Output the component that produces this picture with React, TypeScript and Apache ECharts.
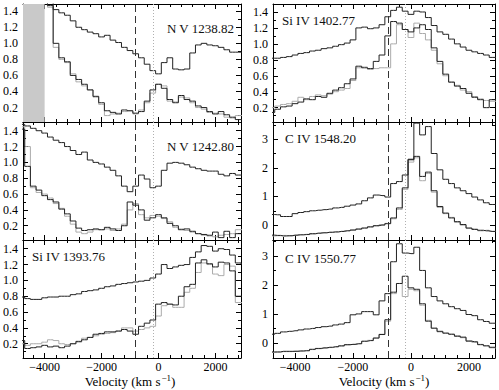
import { useEffect, useRef } from 'react';
import * as echarts from 'echarts';

const VEL = [-4800, -4600, -4400, -4200, -4000, -3800, -3600, -3400, -3200, -3000,
  -2800, -2600, -2400, -2200, -2000, -1800, -1600, -1400, -1200, -1000,
  -800, -600, -400, -200, 0, 200, 400, 600, 800, 1000,
  1200, 1400, 1600, 1800, 2000, 2200, 2400, 2600, 2800, 3000];

const NV1238_TOP = [null, null, null, null, 1.6, 1.47, 1.42, 1.38, 1.35, 1.28, 1.2, 1.17, 1.14, 1.12, 1.08, 1.1, 1.04, 1.01, 0.95, 0.91, 0.87, 0.82, 0.74, 0.66, 0.62, 0.76, 0.82, 0.68, 0.67, 0.68, 0.88, 0.98, 1.0, 0.98, 0.97, 0.95, 0.92, 0.89, 0.89, 0.89];
const NV1238_LOW = [null, null, null, null, 1.6, 1.6, 1.0, 0.82, 0.77, 0.6, 0.55, 0.49, 0.42, 0.34, 0.26, 0.16, 0.14, 0.12, 0.17, 0.16, 0.13, 0.15, 0.28, 0.42, 0.49, 0.44, 0.3, 0.26, 0.35, 0.3, 0.28, 0.22, 0.2, 0.15, 0.12, 0.15, 0.11, 0.08, 0.05, 0.05];
const NV1238_GRAY = [null, null, null, null, 1.6, 1.45, 0.95, 0.8, 0.76, 0.62, 0.52, 0.47, 0.42, 0.33, 0.24, 0.1, 0.12, 0.13, 0.15, 0.16, 0.12, 0.17, 0.26, 0.38, 0.49, 0.47, 0.28, 0.27, 0.33, 0.32, 0.26, 0.2, 0.18, 0.14, 0.13, 0.12, 0.08, 0.07, 0.1, 0.1];

const NV1242_TOP = [1.48, 1.46, 1.43, 1.4, 1.37, 1.32, 1.28, 1.25, 1.2, 1.15, 1.1, 1.13, 1.03, 1.0, 0.98, 0.94, 0.9, 0.83, 0.7, 0.63, 0.7, 0.84, 0.79, 0.68, 0.7, 0.9, 0.99, 1.0, 0.99, 0.97, 0.94, 0.92, 0.9, 0.89, 0.89, 0.85, 0.83, 0.86, 0.84, 0.84];
const NV1242_LOW = [1.42, 0.95, 0.7, 0.65, 0.58, 0.53, 0.5, 0.41, 0.35, 0.26, 0.17, 0.14, 0.15, 0.16, 0.15, 0.18, 0.16, 0.14, 0.2, 0.5, 0.46, 0.4, 0.27, 0.3, 0.34, 0.3, 0.23, 0.2, 0.15, 0.16, 0.13, 0.1, 0.09, 0.08, 0.12, 0.05, 0.13, 0.05, 0.1, 0.1];
const NV1242_GRAY = [1.45, 1.2, 0.68, 0.62, 0.6, 0.55, 0.48, 0.42, 0.32, 0.22, 0.12, 0.1, 0.12, 0.15, 0.15, 0.16, 0.14, 0.16, 0.22, 0.4, 0.48, 0.34, 0.3, 0.33, 0.32, 0.29, 0.25, 0.18, 0.16, 0.14, 0.12, 0.1, 0.08, 0.07, 0.06, 0.08, 0.09, 0.1, 0.15, 0.15];

const SI1393_TOP = [0.79, 0.77, 0.76, 0.76, 0.78, 0.79, 0.79, 0.8, 0.8, 0.82, 0.83, 0.86, 0.87, 0.88, 0.9, 0.92, 0.93, 0.95, 0.96, 0.97, 0.98, 0.99, 1.0, 1.03, 1.08, 1.2, 1.15, 1.17, 1.19, 1.2, 1.29, 1.36, 1.44, 1.43, 1.37, 1.4, 1.39, 1.32, 1.22, 1.21];
const SI1393_LOW = [0.24, 0.14, 0.15, 0.16, 0.18, 0.16, 0.17, 0.15, 0.17, 0.2, 0.23, 0.25, 0.28, 0.32, 0.33, 0.35, 0.35, 0.36, 0.38, 0.36, 0.32, 0.42, 0.46, 0.5, 0.7, 0.72, 0.7, 0.69, 0.8, 0.92, 0.95, 1.22, 1.26, 1.21, 1.17, 1.23, 1.22, 1.12, 0.8, 0.8];
const SI1393_GRAY = [0.2, 0.18, 0.2, 0.2, 0.22, 0.25, 0.24, 0.2, 0.19, 0.2, 0.22, 0.27, 0.28, 0.3, 0.32, 0.33, 0.34, 0.36, 0.4, 0.4, 0.36, 0.38, 0.4, 0.42, 0.55, 0.68, 0.7, 0.66, 0.66, 0.85, 0.9, 1.1, 1.22, 1.2, 1.08, 1.06, 1.2, 1.18, 0.72, 0.72];

const SI1402_TOP = [0.82, 0.82, 0.83, 0.84, 0.86, 0.88, 0.89, 0.91, 0.92, 0.94, 0.95, 0.97, 0.99, 1.01, 1.05, 1.2, 1.21, 1.19, 1.2, 1.24, 1.34, 1.42, 1.46, 1.41, 1.37, 1.41, 1.4, 1.33, 1.23, 1.15, 1.12, 1.06, 1.0, 0.96, 0.92, 0.9, 0.88, 0.86, 0.83, 0.83];
const SI1402_LOW = [0.14, 0.18, 0.21, 0.22, 0.25, 0.27, 0.31, 0.3, 0.34, 0.33, 0.38, 0.42, 0.45, 0.5, 0.56, 0.72, 0.7, 0.69, 0.78, 0.86, 1.1, 1.28, 1.26, 1.18, 1.15, 1.2, 1.24, 1.18, 0.95, 0.78, 0.62, 0.52, 0.47, 0.44, 0.38, 0.33, 0.3, 0.2, 0.3, 0.3];
const SI1402_GRAY = [0.2, 0.22, 0.24, 0.25, 0.28, 0.33, 0.3, 0.34, 0.36, 0.35, 0.37, 0.4, 0.42, 0.44, 0.54, 0.7, 0.71, 0.68, 0.69, 0.7, 0.7, 1.0, 1.24, 1.18, 1.08, 1.26, 1.13, 1.05, 0.92, 0.75, 0.6, 0.52, 0.48, 0.42, 0.4, 0.34, 0.31, 0.29, 0.28, 0.28];

const CIV1548_TOP = [0.37, 0.36, 0.3, 0.3, 0.4, 0.44, 0.47, 0.5, 0.52, 0.54, 0.56, 0.6, 0.62, 0.66, 0.7, 0.74, 0.85, 0.95, 1.05, 1.03, 0.98, 1.45, 1.52, 1.75, 2.28, 3.56, 3.15, 3.44, 2.5, 1.93, 1.6, 1.45, 1.3, 1.2, 1.1, 0.98, 0.88, 0.78, 0.72, 0.7];
const CIV1548_LOW = [-0.35, -0.36, -0.38, -0.37, -0.35, -0.34, -0.33, -0.3, -0.28, -0.27, -0.25, -0.24, -0.22, -0.2, -0.17, -0.14, -0.1, -0.06, -0.02, 0.0, 0.05, 0.25, 0.6, 1.3, 2.3, 2.4, 1.7, 1.85, 1.2, 0.65, 0.42, 0.25, 0.12, 0.02, -0.1, -0.15, -0.18, -0.2, -0.22, -0.22];
const CIV1548_GRAY = [-0.38, -0.37, -0.36, -0.38, -0.36, -0.33, -0.32, -0.31, -0.29, -0.26, -0.25, -0.23, -0.22, -0.19, -0.18, -0.13, -0.11, -0.07, -0.03, 0.02, 0.06, 0.22, 0.55, 1.25, 2.2, 2.35, 1.55, 1.8, 1.15, 0.62, 0.4, 0.27, 0.1, 0.0, -0.12, -0.14, -0.2, -0.18, -0.22, -0.22];

const CIV1550_TOP = [0.3, 0.33, 0.38, 0.4, 0.42, 0.45, 0.48, 0.5, 0.53, 0.56, 0.58, 0.62, 0.65, 0.7, 0.97, 1.0, 1.08, 1.08, 0.97, 1.45, 1.7, 2.8, 3.42, 3.1, 3.08, 3.3, 2.5, 1.9, 1.6, 1.45, 1.35, 1.25, 1.18, 1.12, 0.98, 0.94, 0.8, 0.74, 0.68, 0.68];
const CIV1550_LOW = [-0.31, -0.31, -0.29, -0.29, -0.29, -0.28, -0.27, -0.22, -0.19, -0.17, -0.15, -0.13, -0.1, -0.06, -0.05, -0.03, 0.06, 0.08, 0.17, 0.29, 0.8, 1.75, 2.05, 2.3, 1.9, 1.85, 1.35, 0.75, 0.51, 0.4, 0.34, 0.3, 0.23, 0.2, 0.06, 0.04, -0.06, -0.1, -0.15, -0.15];
const CIV1550_GRAY = [-0.33, -0.32, -0.3, -0.3, -0.28, -0.27, -0.26, -0.23, -0.2, -0.18, -0.16, -0.14, -0.11, -0.07, -0.05, -0.02, 0.05, 0.09, 0.16, 0.3, 0.75, 1.7, 2.05, 1.6, 1.85, 1.8, 1.3, 0.78, 0.5, 0.38, 0.33, 0.3, 0.25, 0.18, 0.08, 0.02, -0.05, -0.1, -0.17, -0.17];

const PANEL_NAMES = ['N V 1238.82', 'N V 1242.80', 'Si IV 1393.76', 'Si IV 1402.77', 'C IV 1548.20', 'C IV 1550.77'];
const TOP_SERIES = [NV1238_TOP, NV1242_TOP, SI1393_TOP, SI1402_TOP, CIV1548_TOP, CIV1550_TOP];
const LOW_SERIES = [NV1238_LOW, NV1242_LOW, SI1393_LOW, SI1402_LOW, CIV1548_LOW, CIV1550_LOW];
const GRAY_SERIES = [NV1238_GRAY, NV1242_GRAY, SI1393_GRAY, SI1402_GRAY, CIV1548_GRAY, CIV1550_GRAY];

const Y_MIN = [0.02, 0.02, 0.02, 0.02, -0.52, -0.52];
const Y_MAX = [1.49, 1.51, 1.51, 1.5, 3.6, 3.55];

const X_MIN = -4760;
const X_MAX = 2900;
const X_MAJOR = [-4000, -2000, 0, 2000];
const X_MINOR = [-4400, -3600, -3200, -2800, -2400, -1600, -1200, -800, -400, 400, 800, 1200, 1600, 2400, 2800];
const Y_MAJOR_NV = [0.2, 0.4, 0.6, 0.8, 1.0, 1.2, 1.4];
const Y_MINOR_NV = [0.1, 0.3, 0.5, 0.7, 0.9, 1.1, 1.3];
const Y_MAJOR_C = [0, 1, 2, 3];
const Y_MINOR_C = [0.5, 1.5, 2.5, 3.5];

const ABSORB_VEL = -800;
const SYS_VEL = -200;
const MASK_END = -4000;

const FONT = 'Liberation Serif, DejaVu Serif, serif';
const INK = '#222';

export default function App() {
  const ref = useRef<HTMLDivElement>(null);
  useEffect(() => {
    const chart = echarts.init(ref.current!, null, { renderer: 'svg' });
    const grids: any[] = [];
    const xAxes: any[] = [];
    const yAxes: any[] = [];
    const series: any[] = [];
    const graphics: any[] = [];
    const line = { color: '#000', width: 1 };
    const minus = (v: number) => (v < 0 ? '\u2212' + Math.abs(v) : String(v));

    for (let i = 0; i < 6; i++) {
      const col = i < 3 ? 0 : 1;
      const row = i % 3;
      const isC = i >= 4;
      grids.push({ left: col ? 273 : 19, width: 222, top: 4 + row * 118, height: 118 });
      const xBase = { type: 'value', gridIndex: i, min: X_MIN, max: X_MAX, splitLine: { show: false } };
      const mk = (pos: string, vals: number[], len: number, showLine: boolean, showLabel: boolean) => ({
        ...xBase,
        position: pos,
        axisLine: { show: showLine, onZero: false, lineStyle: line },
        axisTick: { show: true, inside: true, length: len, customValues: vals, lineStyle: line },
        axisLabel: {
          show: showLabel, customValues: X_MAJOR, formatter: minus,
          fontFamily: FONT, fontSize: 12, color: '#000', margin: 3,
        },
      });
      xAxes.push(mk('bottom', X_MAJOR, 5, true, row === 2));
      xAxes.push(mk('bottom', X_MINOR, 3, false, false));
      xAxes.push(mk('top', X_MAJOR, 5, true, false));
      xAxes.push(mk('top', X_MINOR, 3, false, false));

      const yMaj = isC ? Y_MAJOR_C : Y_MAJOR_NV;
      const yMin = isC ? Y_MINOR_C : Y_MINOR_NV;
      const yBase = { type: 'value', gridIndex: i, min: Y_MIN[i], max: Y_MAX[i], splitLine: { show: false } };
      const mky = (pos: string, vals: number[], len: number, showLine: boolean, showLabel: boolean) => ({
        ...yBase,
        position: pos,
        axisLine: { show: showLine, onZero: false, lineStyle: line },
        axisTick: { show: true, inside: true, length: len, customValues: vals, lineStyle: line },
        axisLabel: {
          show: showLabel, customValues: yMaj,
          formatter: (v: number) => (isC ? String(v) : v.toFixed(1)),
          fontFamily: FONT, fontSize: 12, color: '#000', margin: 5,
        },
      });
      yAxes.push(mky('left', yMaj, 5, true, true));
      yAxes.push(mky('left', yMin, 3, false, false));
      yAxes.push(mky('right', yMaj, 5, true, false));
      yAxes.push(mky('right', yMin, 3, false, false));

      const toData = (arr: (number | null)[]) => VEL.map((v, k) => [v, arr[k] == null ? '-' : arr[k]]);
      const base = {
        type: 'line', step: 'middle', showSymbol: false, xAxisIndex: i * 4, yAxisIndex: i * 4,
        silent: true, connectNulls: false, clip: true,
      };
      const gray: any = {
        ...base, data: toData(GRAY_SERIES[i]), lineStyle: { color: '#ababab', width: 1 }, z: 2,
        markLine: {
          silent: true, symbol: ['none', 'none'], label: { show: false },
          data: [
            { xAxis: ABSORB_VEL, lineStyle: { color: '#333', width: 1, type: [7, 4] } },
            { xAxis: SYS_VEL, lineStyle: { color: '#b0b0b0', width: 1, type: [1, 2] } },
          ],
        },
      };
      if (i === 0) {
        gray.markArea = {
          silent: true, itemStyle: { color: '#c9c9c9', opacity: 1 },
          data: [[{ xAxis: X_MIN }, { xAxis: MASK_END }]],
        };
      }
      series.push(gray);
      series.push({ ...base, data: toData(LOW_SERIES[i]), lineStyle: { color: INK, width: 1 }, z: 3 });
      series.push({ ...base, data: toData(TOP_SERIES[i]), lineStyle: { color: INK, width: 1 }, z: 3 });
    }

    const labelPos = [
      { x: 234, y: 28, align: 'right' },
      { x: 234, y: 146, align: 'right' },
      { x: 32, y: 256, align: 'left' },
      { x: 282, y: 20, align: 'left' },
      { x: 285, y: 138, align: 'left' },
      { x: 285, y: 258, align: 'left' },
    ];
    PANEL_NAMES.forEach((name, i) => {
      graphics.push({
        type: 'text', x: labelPos[i].x, y: labelPos[i].y, z: 10,
        style: { text: name, fontFamily: FONT, fontSize: 13, fill: '#111', align: labelPos[i].align, verticalAlign: 'middle' },
      });
    });
    [130, 384].forEach((cx) => {
      graphics.push({
        type: 'text', x: cx, y: 381, z: 10,
        style: {
          text: '{a|Velocity (km s}{b|\u22121}{a|)}',
          align: 'center', verticalAlign: 'middle',
          rich: {
            a: { fontFamily: FONT, fontSize: 13, fill: '#000', lineHeight: 16 },
            b: { fontFamily: FONT, fontSize: 9, fill: '#000', lineHeight: 16, verticalAlign: 'top', padding: [0, 0, 6, 1] },
          },
        },
      });
    });

    chart.setOption({
      animation: false,
      backgroundColor: '#fff',
      grid: grids,
      xAxis: xAxes,
      yAxis: yAxes,
      series,
      graphic: graphics,
    });
    return () => chart.dispose();
  }, []);
  return <div ref={ref} style={{ position: 'fixed', left: 0, top: 0, width: 499, height: 390, background: '#fff' }} />;
}
